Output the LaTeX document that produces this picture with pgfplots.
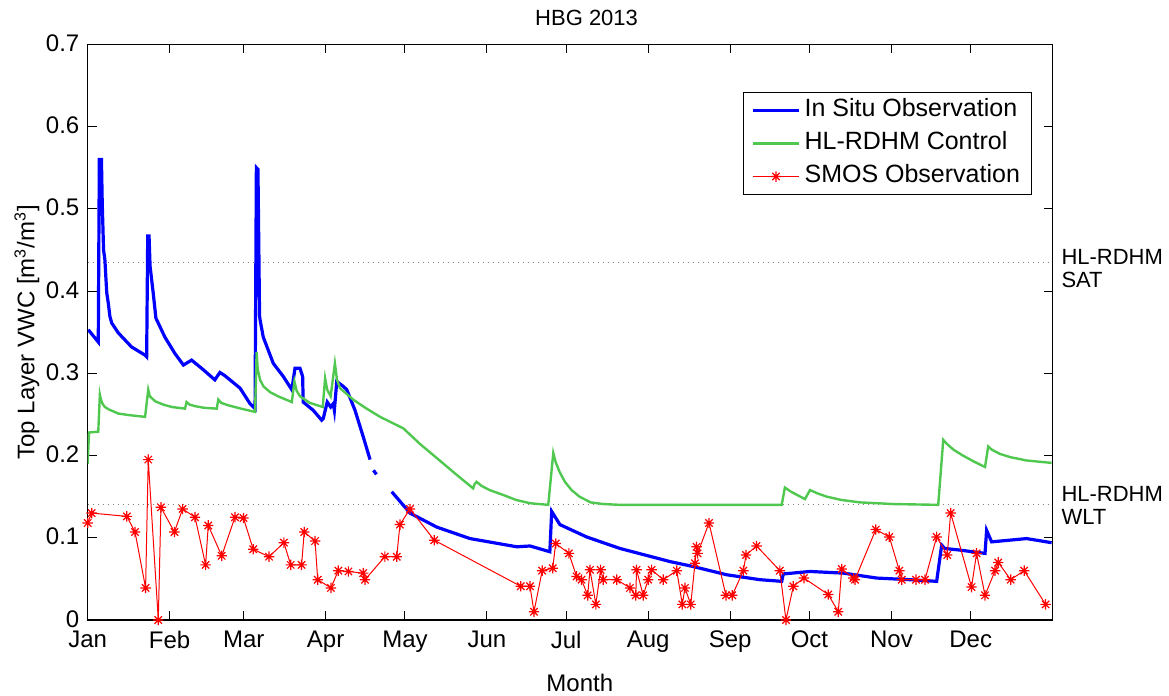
\documentclass[border=0pt]{standalone}
\usepackage{fontspec}
\setmainfont{Liberation Sans}
\usepackage{pgfplots}
\pgfplotsset{compat=1.18}

\definecolor{insitu}{RGB}{0,0,255}
\definecolor{hlrdhm}{RGB}{80,200,80}
\definecolor{smos}{RGB}{255,0,0}

\newcommand\lbl{\fontsize{12}{11.5}\selectfont}
\newcommand\side{\fontsize{11}{11.5}\selectfont}

% eight-armed asterisk marker
\pgfdeclareplotmark{star8}{%
  \pgfpathmoveto{\pgfqpoint{-\pgfplotmarksize}{0pt}}%
  \pgfpathlineto{\pgfqpoint{\pgfplotmarksize}{0pt}}%
  \pgfpathmoveto{\pgfqpoint{0pt}{-\pgfplotmarksize}}%
  \pgfpathlineto{\pgfqpoint{0pt}{\pgfplotmarksize}}%
  \pgfpathmoveto{\pgfqpoint{-0.707\pgfplotmarksize}{-0.707\pgfplotmarksize}}%
  \pgfpathlineto{\pgfqpoint{0.707\pgfplotmarksize}{0.707\pgfplotmarksize}}%
  \pgfpathmoveto{\pgfqpoint{-0.707\pgfplotmarksize}{0.707\pgfplotmarksize}}%
  \pgfpathlineto{\pgfqpoint{0.707\pgfplotmarksize}{-0.707\pgfplotmarksize}}%
  \pgfusepathqstroke}

\begin{document}
\begin{tikzpicture}
\useasboundingbox (-43.85pt,-38pt) rectangle (540.65pt,310pt);
\begin{axis}[
  at={(0pt,0pt)}, anchor=south west,
  scale only axis, width=482.5pt, height=287.85pt,
  xmin=0, xmax=365, ymin=0, ymax=0.7,
  xtick={0,31,59,90,120,151,181,212,243,273,304,334},
  xticklabels={Jan,Feb,Mar,Apr,May,Jun,Jul,Aug,Sep,Oct,Nov,Dec},
  ytick={0,0.1,0.2,0.3,0.4,0.5,0.6,0.7},
  yticklabel style={/pgf/number format/fixed,/pgf/number format/precision=1, inner sep=1pt, xshift=-3pt, yshift=0.6pt},
  xticklabel style={inner sep=1pt, yshift=-4.2pt},
  /pgf/number format/assume math mode=true,
  tick align=inside, major tick length=4.5pt,
  tick style={black, line width=0.5pt},
  axis line style={black, line width=0.6pt},
  ticklabel style={font=\lbl},
  unbounded coords=jump,
  clip mode=individual,
  title={HBG 2013},
  title style={font=\fontsize{11}{11}\selectfont, at={(axis description cs:0.517,1.025)}, anchor=center},
  xlabel={Month},
  xlabel style={font=\lbl, at={(axis description cs:0.51,-0.1094)}, anchor=center},
  ylabel={Top Layer VWC [m\textsuperscript{3}/m\textsuperscript{3}]},
  ylabel style={font=\lbl, at={(axis description cs:-0.0629,0.5)}, anchor=center},
  legend image code/.code={\draw[mark repeat=2,mark phase=2] plot coordinates {(0pt,0pt) (11.5pt,0pt) (23pt,0pt)};},
  legend cell align=left,
  legend style={at={(0.979,0.917)}, anchor=north east, draw=black, line width=0.5pt,
    font=\fontsize{12.5}{12}\selectfont, inner xsep=4pt, inner ysep=0.5pt, row sep=0pt,
    nodes={text height=8.8pt, text depth=2.6pt, inner ysep=2.6pt}},
]

% saturation and wilting reference levels
\addplot[forget plot, gray, dotted, line width=0.5pt] coordinates {(0,0.435) (365,0.435)};
\addplot[forget plot, gray, dotted, line width=0.5pt] coordinates {(0,0.14) (365,0.14)};

% in situ top-layer soil moisture (day of year, m3/m3)
\addplot[insitu, line width=1.6pt] coordinates {
(0.2,0.353) (4.0,0.338) (4.4,0.560) (5.2,0.560) (5.5,0.507) (6.0,0.450) (6.5,0.438)
(7.2,0.398) (7.8,0.385) (8.4,0.369) (9.1,0.361) (11.6,0.349) (16.6,0.332) (21.7,0.322)
(22.3,0.320) (22.7,0.467) (23.2,0.467) (23.6,0.430) (24.8,0.397) (25.8,0.367) (29.2,0.344)
(33.0,0.324) (36.2,0.310) (39.3,0.316) (43.1,0.306) (48.1,0.292) (50.0,0.301) (51.9,0.297)
(57.6,0.282) (61.4,0.263) (63.3,0.257) (63.8,0.550) (64.4,0.548) (64.7,0.460) (65.0,0.370)
(65.2,0.365) (66.4,0.344) (70.2,0.312) (74.0,0.296) (77.2,0.280) (78.4,0.306) (80.3,0.306)
(81.3,0.296) (81.5,0.265) (85.3,0.255) (88.5,0.243) (89.1,0.245) (90.6,0.265) (91.9,0.259)
(92.9,0.263) (93.3,0.255) (94.2,0.290) (96.7,0.284) (98.0,0.280) (101.1,0.255) (104.2,0.223)
(106.8,0.195) (107.5,nan) (108.1,0.182) (109.2,0.177) (110,nan) (115.0,0.156) (121.9,0.130)
(132.0,0.113) (144.6,0.099) (162.3,0.089) (167.3,0.090) (174.8,0.083) (175.5,0.132)
(178.6,0.116) (188.7,0.101) (201.3,0.087) (220.3,0.071) (229.0,0.065) (241.7,0.055)
(254.3,0.049) (262.5,0.047) (263.1,0.056) (273.2,0.059) (285.8,0.057) (298.4,0.051)
(311.0,0.049) (321.1,0.047) (323.0,0.091) (324.2,0.087) (329.9,0.085) (339.4,0.081)
(340.0,0.109) (341.9,0.095) (355.1,0.099) (364.6,0.094)
};
\addlegendentry{In Situ Observation}

% model control run
\addplot[hlrdhm, line width=1.2pt] coordinates {
(0,0.190) (0.5,0.228) (4.0,0.229) (4.6,0.274) (5.0,0.268) (5.6,0.263) (6.5,0.259) (8.0,0.256)
(11.6,0.251) (16.0,0.249) (21.7,0.247) (22.9,0.280) (23.5,0.272) (25.5,0.266) (28.5,0.262)
(31.8,0.259) (36.8,0.257) (37.4,0.265) (38.5,0.262) (40.6,0.260) (44.0,0.258) (48.8,0.257)
(49.4,0.268) (50.5,0.264) (53.2,0.261) (58.0,0.257) (63.3,0.253) (63.9,0.326) (64.3,0.305)
(65.2,0.292) (66.5,0.284) (69.0,0.277) (72.0,0.272) (77.2,0.265) (78.2,0.290) (79.0,0.279)
(80.3,0.272) (84.0,0.264) (88.9,0.259) (89.8,0.294) (90.6,0.280) (91.9,0.272) (93.5,0.312)
(94.3,0.292) (95.4,0.282) (100.4,0.268) (105.0,0.258) (110.6,0.247) (119.4,0.233)
(125.7,0.214) (132.0,0.197) (139.0,0.178) (145.8,0.160) (146.3,0.165) (147.1,0.168)
(149.0,0.163) (152.0,0.158) (157.2,0.152) (162.0,0.146) (167.3,0.142) (174.2,0.140)
(176.1,0.203) (177.0,0.192) (178.5,0.180) (180.5,0.168) (183.0,0.158) (186.0,0.150)
(190.2,0.143) (195.0,0.141) (201.3,0.140) (262.5,0.140) (263.7,0.161) (266.0,0.156)
(271.3,0.147) (273.2,0.158) (276.0,0.154) (279.5,0.150) (285.0,0.146) (292.1,0.143)
(304.6,0.141) (321.7,0.140) (323.6,0.219) (325.0,0.214) (327.5,0.207) (331.0,0.200)
(335.0,0.193) (339.4,0.186) (340.6,0.211) (342.0,0.207) (345.0,0.202) (349.0,0.198)
(355.0,0.194) (364.6,0.191)
};
\addlegendentry{HL-RDHM Control}

% satellite retrievals
\addplot[smos, line width=0.5pt, mark=star8, mark size=2.6pt, mark options={solid, line width=0.6pt}] coordinates {
(0,0.118) (1.5,0.130) (14.8,0.126) (17.9,0.107) (21.9,0.039) (22.9,0.195) (26.7,0.000)
(27.7,0.137) (32.8,0.107) (35.9,0.135) (40.6,0.125) (44.6,0.067) (45.6,0.115) (50.7,0.078)
(55.7,0.125) (58.9,0.124) (62.6,0.086) (68.6,0.077) (74.2,0.094) (76.8,0.067) (80.9,0.067)
(81.9,0.107) (86.0,0.096) (87.0,0.049) (92.0,0.039) (94.8,0.060) (98.6,0.059) (104.2,0.057)
(104.9,0.049) (112.4,0.077) (116.9,0.077) (118.1,0.116) (121.9,0.135) (131.1,0.097)
(163.8,0.041) (167.3,0.041) (168.8,0.010) (171.9,0.060) (175.9,0.063) (177.0,0.093)
(182.0,0.081) (184.9,0.053) (186.8,0.049) (189.1,0.030) (190.0,0.061) (192.2,0.019)
(194.0,0.061) (195.0,0.049) (200.1,0.049) (205.1,0.039) (207.3,0.030) (207.6,0.061)
(210.1,0.030) (212.0,0.049) (213.3,0.061) (217.7,0.049) (222.8,0.060) (224.9,0.019)
(225.9,0.039) (228.1,0.019) (229.7,0.069) (230.3,0.089) (230.7,0.081) (235.0,0.118)
(241.4,0.030) (243.8,0.030) (248.0,0.060) (249.0,0.079) (253.0,0.090) (261.8,0.060)
(264.1,0.000) (266.9,0.041) (270.9,0.051) (280.1,0.031) (283.9,0.010) (285.2,0.062)
(289.6,0.051) (290.2,0.049) (298.1,0.110) (303.2,0.101) (307.0,0.060) (307.9,0.049)
(313.3,0.049) (316.7,0.049) (321.1,0.101) (325.1,0.079) (326.4,0.130) (334.3,0.040)
(336.2,0.081) (339.4,0.030) (343.2,0.060) (344.4,0.070) (349.1,0.049) (354.2,0.060)
(362.3,0.019)
};
\addlegendentry{SMOS Observation}

\node[anchor=west, align=left, inner sep=0pt, font=\side, xshift=4.2pt] at (rel axis cs:1,0.6097) {HL-RDHM\\SAT};
\node[anchor=west, align=left, inner sep=0pt, font=\side, xshift=4.2pt] at (rel axis cs:1,0.1998) {HL-RDHM\\WLT};
\end{axis}
\end{tikzpicture}
\end{document}
